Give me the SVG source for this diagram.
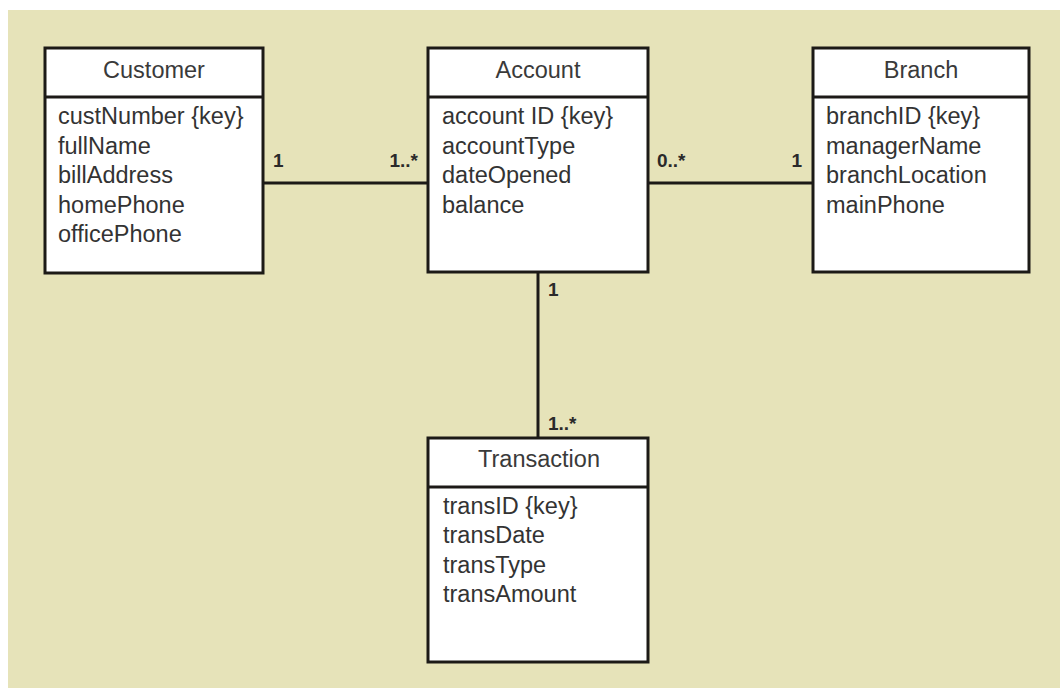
<svg xmlns="http://www.w3.org/2000/svg" width="1060" height="688" viewBox="0 0 1060 688">
  <style>
    .box { fill: #ffffff; stroke: #1c1a17; stroke-width: 3; }
    .div { stroke: #1c1a17; stroke-width: 3; }
    .title { font-family: "Liberation Sans", Arial, Helvetica, sans-serif; font-size: 23.5px; fill: #3a3a3a; text-anchor: middle; }
    .attr { font-family: "Liberation Sans", Arial, Helvetica, sans-serif; font-size: 23.5px; fill: #333333; }
    .link { stroke: #1c1a17; stroke-width: 3; fill: none; }
    .mult { font-family: "Liberation Sans", Arial, Helvetica, sans-serif; font-size: 19px; font-weight: bold; fill: #2a2a2a; }
  </style>

  <!-- page and panel -->
  <rect x="0" y="0" width="1060" height="688" fill="#ffffff"/>
  <rect x="8" y="10" width="1052" height="678" fill="#e6e3b9"/>

  <!-- associations -->
  <g id="connectors">
    <line class="link" x1="263" y1="183" x2="428" y2="183"/>
    <line class="link" x1="648" y1="183" x2="813" y2="183"/>
    <line class="link" x1="538" y1="272" x2="538" y2="438"/>
    <text class="mult" x="273" y="167">1</text>
    <text class="mult" x="418" y="167" text-anchor="end">1..*</text>
    <text class="mult" x="657" y="167">0..*</text>
    <text class="mult" x="802" y="167" text-anchor="end">1</text>
    <text class="mult" x="548" y="296">1</text>
    <text class="mult" x="548" y="430">1..*</text>
  </g>

  <g id="customer">
    <rect class="box" x="45" y="48" width="218" height="225"/>
    <line class="div" x1="45" y1="97" x2="263" y2="97"/>
    <text class="title" x="154" y="78">Customer</text>
    <text class="attr" x="58" y="124">custNumber {key}</text>
    <text class="attr" x="58" y="153.5">fullName</text>
    <text class="attr" x="58" y="183">billAddress</text>
    <text class="attr" x="58" y="212.5">homePhone</text>
    <text class="attr" x="58" y="242">officePhone</text>
  </g>

  <g id="account">
    <rect class="box" x="428" y="48" width="220" height="224"/>
    <line class="div" x1="428" y1="97" x2="648" y2="97"/>
    <text class="title" x="538" y="78">Account</text>
    <text class="attr" x="442" y="124">account ID {key}</text>
    <text class="attr" x="442" y="153.5">accountType</text>
    <text class="attr" x="442" y="183">dateOpened</text>
    <text class="attr" x="442" y="212.5">balance</text>
  </g>

  <g id="branch">
    <rect class="box" x="813" y="48" width="216" height="224"/>
    <line class="div" x1="813" y1="97" x2="1029" y2="97"/>
    <text class="title" x="921" y="78">Branch</text>
    <text class="attr" x="826" y="124">branchID {key}</text>
    <text class="attr" x="826" y="153.5">managerName</text>
    <text class="attr" x="826" y="183">branchLocation</text>
    <text class="attr" x="826" y="212.5">mainPhone</text>
  </g>

  <g id="transaction">
    <rect class="box" x="428" y="438" width="220" height="224"/>
    <line class="div" x1="428" y1="487" x2="648" y2="487"/>
    <text class="title" x="539" y="467">Transaction</text>
    <text class="attr" x="443" y="514">transID {key}</text>
    <text class="attr" x="443" y="543">transDate</text>
    <text class="attr" x="443" y="572.5">transType</text>
    <text class="attr" x="443" y="602">transAmount</text>
  </g>
</svg>
